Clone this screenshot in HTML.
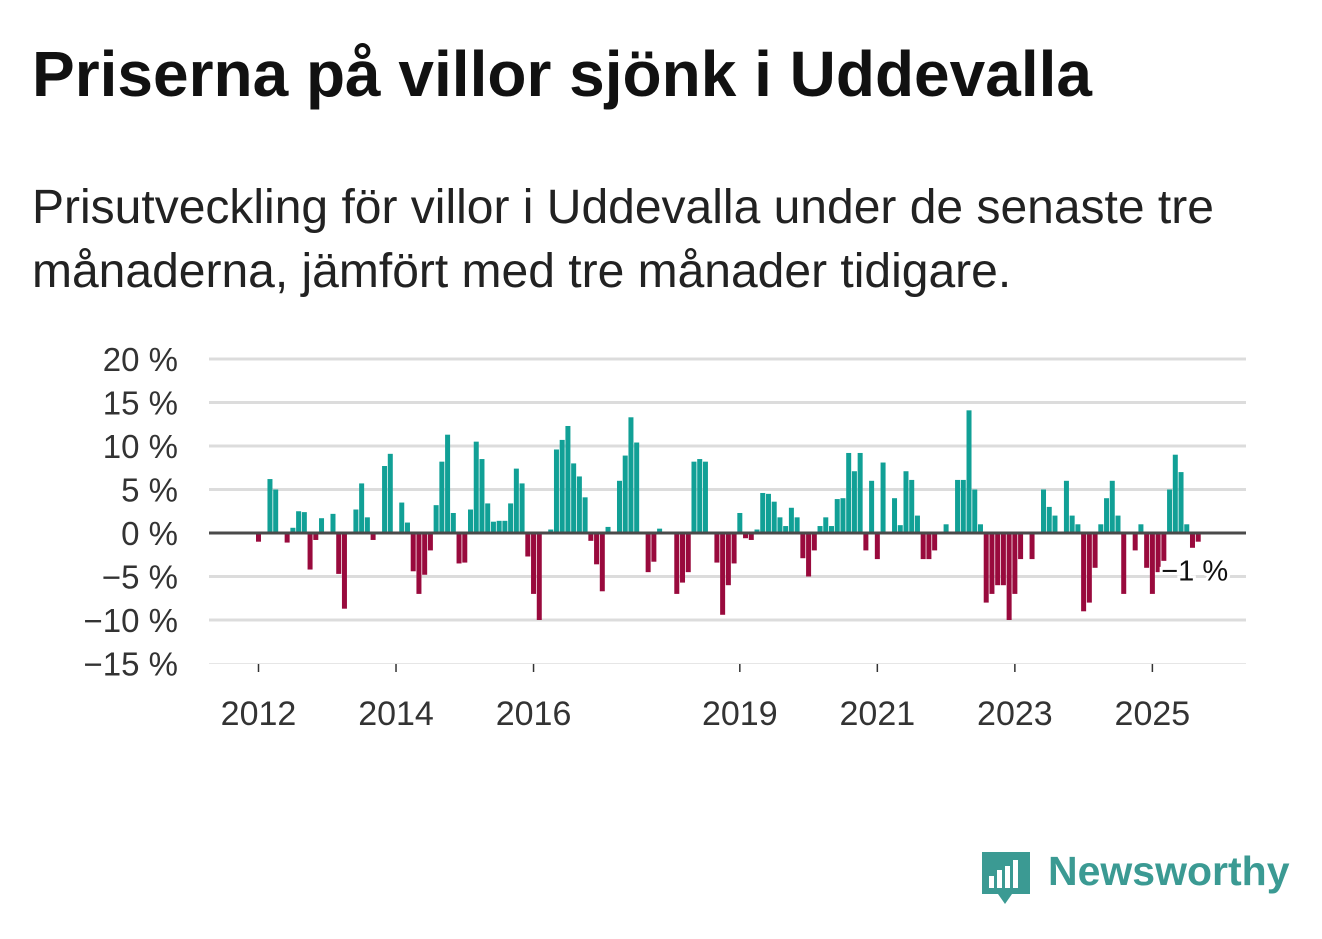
<!DOCTYPE html>
<html><head><meta charset="utf-8">
<style>
body{margin:0;background:#fff;width:1322px;height:939px;overflow:hidden;font-family:"Liberation Sans",sans-serif;position:relative}
#title{position:absolute;left:32px;top:42px;font-size:64px;line-height:64px;font-weight:bold;color:#111;white-space:nowrap}
#subtitle{position:absolute;left:32px;top:176px;font-size:48px;line-height:64px;color:#222;white-space:nowrap}
#logo-text{position:absolute;left:1048px;top:848px;font-size:41px;font-weight:bold;color:#3b9a93;white-space:nowrap}
svg{position:absolute;left:0;top:0}
</style></head><body>
<div id="title">Priserna på villor sjönk i Uddevalla</div>
<div id="subtitle">Prisutveckling för villor i Uddevalla under de senaste tre<br>månaderna, jämfört med tre månader tidigare.</div>
<svg id="chart" width="1322" height="939"></svg>
<svg width="1322" height="939">
<path d="M982 852 h48 v42 h-18 l-7 10 l-7 -10 h-16 z" fill="#3b9a93"/>
<rect x="989" y="876" width="5" height="12" fill="#fff"/><rect x="997" y="870" width="5" height="18" fill="#fff"/><rect x="1005" y="866" width="5" height="22" fill="#fff"/><rect x="1013" y="860" width="5" height="28" fill="#fff"/>
</svg>
<div id="logo-text">Newsworthy</div>
<script>
const startYear = 2012;
const values = [-1,0,6.2,5,0,-1.1,0.6,2.5,2.4,-4.2,-0.8,1.7,
0,2.2,-4.7,-8.7,0,2.7,5.7,1.8,-0.8,0,7.7,9.1,
0,3.5,1.2,-4.4,-7,-4.8,-2,3.2,8.2,11.3,2.3,-3.5,
-3.4,2.7,10.5,8.5,3.4,1.3,1.4,1.4,3.4,7.4,5.7,-2.7,
-7,-10,0,0.4,9.6,10.7,12.3,8,6.5,4.1,-0.9,-3.6,
-6.7,0.7,0,6,8.9,13.3,10.4,0,-4.5,-3.3,0.5,0,
0,-7,-5.7,-4.5,8.2,8.5,8.2,0,-3.4,-9.4,-6,-3.5,
2.3,-0.6,-0.8,0.4,4.6,4.5,3.6,1.8,0.8,2.9,1.8,-2.9,
-5,-2,0.8,1.8,0.8,3.9,4,9.2,7.1,9.2,-2,6,
-3,8.1,0,4,0.9,7.1,6.1,2,-3,-3,-2,0,
1,0,6.1,6.1,14.1,5,1,-8,-7,-6,-6,-10,
-7,-3,0,-3,0,5,3,2,0,6,2,1,
-9,-8,-4,1,4,6,2,-7,0,-2,1,-4,
-7,-4.5,-3.2,5,9,7,1,-1.7,-1];
const yTicks = [20,15,10,5,0,-5,-10,-15];
const xTickYears = [2012,2014,2016,2019,2021,2023,2025];
const lastLabel = "−1 %";

const NS="http://www.w3.org/2000/svg";
const svg=document.getElementById('chart');
const y0=533, pxPer=8.7, x0=258.5, pxMonth=5.73;
const Y=v=>y0-v*pxPer;
const X=m=>x0+m*pxMonth;
function mk(t,a){const e=document.createElementNS(NS,t);for(const k in a)e.setAttribute(k,a[k]);svg.appendChild(e);return e;}
yTicks.forEach(v=>{
  const l=mk('line',{x1:209,x2:1246,y1:Y(v),y2:Y(v),stroke:v===-15?'#e6e6e6':'#dcdcdc','stroke-width':v===-15?1:3});
  
  
  const t=mk('text',{x:178,y:Y(v)+12,'text-anchor':'end','font-size':33,fill:'#333','font-family':'Liberation Sans, sans-serif'});
  t.textContent=(v<0?'−'+(-v):v)+' %';
  
  
});
xTickYears.forEach(yr=>{
  const x=X((yr-startYear)*12);
  const l=mk('line',{x1:x,x2:x,y1:664,y2:672,stroke:'#333','stroke-width':1.5});
  
  
  const t=mk('text',{x:x,y:725,'text-anchor':'middle','font-size':34,fill:'#333','font-family':'Liberation Sans, sans-serif'});
  t.textContent=yr;
  
  
});
values.forEach((v,i)=>{
  if(v===0)return;
  const x=X(i);
  const r=mk('rect',{x:x-2.5,width:5,y:v>0?Y(v):y0,height:Math.abs(v)*pxPer,fill:v>0?'#11a096':'#990a3d'});
  
  
});
const zl=mk('line',{x1:209,x2:1246,y1:y0,y2:y0,stroke:'#4a4a4a','stroke-width':3});


const n=values.length-1;
const lt=mk('text',{x:X(n)-37,y:Y(-5)+4,'font-size':29,fill:'#111',stroke:'#fff','stroke-width':6,'paint-order':'stroke','font-family':'Liberation Sans, sans-serif'});
lt.textContent=lastLabel;


</script>
</body></html>
